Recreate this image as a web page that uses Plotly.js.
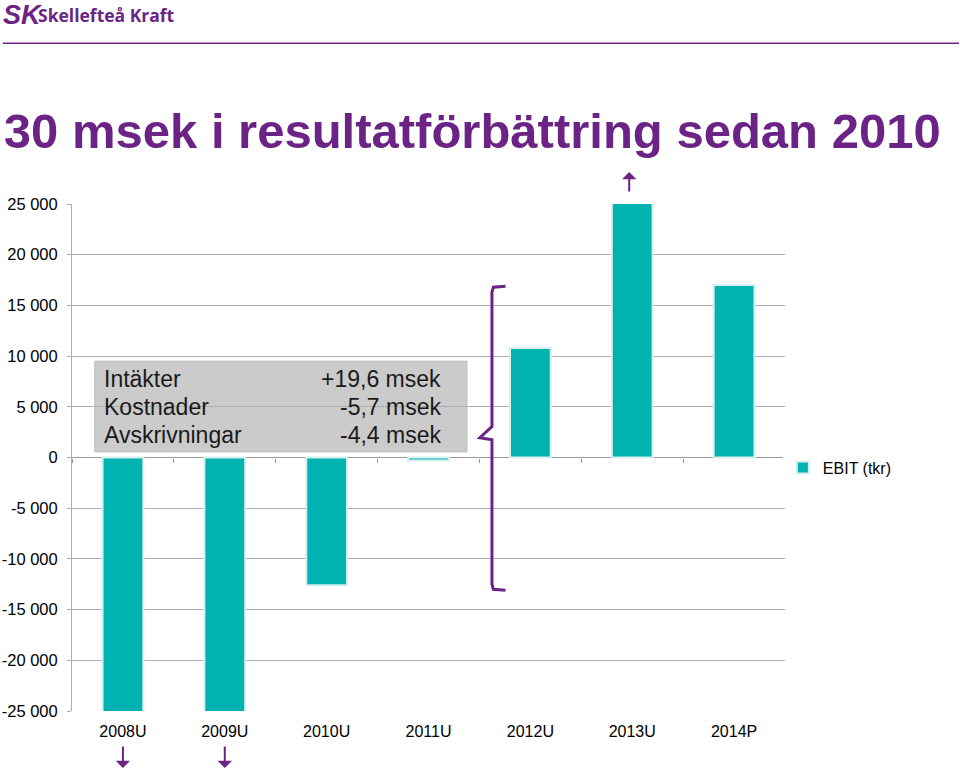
<!DOCTYPE html>
<html>
<head>
<meta charset="utf-8">
<script src="https://cdn.plot.ly/plotly-3.0.1.min.js"></script>
<style>
  body { margin: 0; background: #fff; }
  #chart { width: 960px; height: 772px; }
</style>
</head>
<body>
<div id="chart"></div>
<script>
// EBIT per year (tkr); 2008U, 2009U and 2013U run off the axis in the original
var years = ['2008U', '2009U', '2010U', '2011U', '2012U', '2013U', '2014P'];
var ebit = [-32000, -30000, -12600, -300, 10800, 30000, 17000];
var yTicks = [-25000, -20000, -15000, -10000, -5000, 0, 5000, 10000, 15000, 20000, 25000];

var boxLabels = ['Intäkter', 'Kostnader', 'Avskrivningar'];
var boxValues = ['+19,6 msek', '-5,7 msek', '-4,4 msek'];

var purple = '#6B2485';
var teal = '#00B2B0';

// "25 000", "-5 000" with a plain hyphen like the original
function tkr(v) {
    var s = String(Math.abs(v)).replace(/\B(?=(\d{3})+(?!\d))/g, ' ');
    return (v < 0 ? '-' : '') + s;
}

var ebitTrace = {
    x: years,
    y: ebit,
    type: 'bar',
    name: 'EBIT (tkr)',
    width: 0.4,
    marker: {
        color: teal,
        line: { color: '#D6EFEF', width: 2 }
    }
};

// invisible trace so the tick-only axis at zero gets drawn
var zeroTicks = {
    x: years,
    y: ebit.map(function () { return 0; }),
    xaxis: 'x2',
    type: 'scatter',
    mode: 'markers',
    marker: { opacity: 0 },
    showlegend: false,
    hoverinfo: 'skip'
};

var arrow = { text: '', showarrow: true, xref: 'x', yref: 'y', axref: 'pixel', ayref: 'pixel',
    arrowhead: 1, arrowsize: 1.2, arrowwidth: 2, arrowcolor: purple, standoff: 0, ax: 0 };

var annotations = [
    // arrows for the bars outside the axis range
    Object.assign({}, arrow, { x: '2013U', y: 25000, xshift: -3, yshift: 32, ay: 21 }),
    Object.assign({}, arrow, { x: '2008U', y: -25000, yshift: -57, ay: -23 }),
    Object.assign({}, arrow, { x: '2009U', y: -25000, yshift: -57, ay: -23 }),
    // header
    {
        xref: 'paper', yref: 'paper', x: -0.1, y: 1.373, xanchor: 'left', yanchor: 'middle',
        showarrow: false, text: '<b><i>SK</i></b>',
        font: { family: 'Liberation Sans, Arial', size: 27, color: purple }
    },
    {
        xref: 'paper', yref: 'paper', x: -0.05, y: 1.373, xanchor: 'left', yanchor: 'middle',
        showarrow: false, text: '<b>Skellefteå Kraft</b>',
        font: { family: 'Open Sans, Liberation Sans', size: 17.5, color: purple }
    }
];

// text rows inside the grey box
var rowY = [0.6548, 0.5996, 0.5444];
boxLabels.forEach(function (lab, i) {
    annotations.push({
        xref: 'paper', yref: 'paper', x: 0.042, y: rowY[i],
        xanchor: 'left', yanchor: 'middle', showarrow: false, text: lab,
        font: { family: 'Liberation Sans, Arial', size: 23, color: '#1a1a1a' }
    });
    annotations.push({
        xref: 'paper', yref: 'paper', x: 0.521, y: rowY[i],
        xanchor: 'right', yanchor: 'middle', showarrow: false, text: boxValues[i],
        font: { family: 'Liberation Sans, Arial', size: 23, color: '#1a1a1a' }
    });
});

var shapes = [
    // grey box behind the text
    {
        type: 'rect', xref: 'paper', yref: 'paper', layer: 'below',
        x0: 0.032, x1: 0.554, y0: 0.511, y1: 0.69,
        fillcolor: '#CBCBCB', line: { color: '#BDBDBD', width: 1 }
    },
    // bracket
    {
        type: 'path', xref: 'paper', yref: 'paper',
        path: 'M 0.608 0.838 L 0.591 0.836 L 0.589 0.826 L 0.589 0.561 L 0.572 0.539 L 0.589 0.535 L 0.589 0.250 L 0.591 0.240 L 0.608 0.238',
        line: { color: purple, width: 3 }
    },
    // header rule
    {
        type: 'line', xref: 'paper', yref: 'paper',
        x0: -0.097, x1: 1.244, y0: 1.317, y1: 1.317,
        line: { color: purple, width: 1.5 }
    }
];

var layout = {
    width: 960,
    height: 772,
    margin: { l: 72, r: 175, t: 204, b: 61 },
    paper_bgcolor: '#fff',
    plot_bgcolor: '#fff',
    font: { family: 'Liberation Sans, Arial, sans-serif', size: 15, color: '#000' },
    title: {
        text: '<b>30 msek i resultatförbättring sedan 2010</b>',
        x: 0.004, xanchor: 'left', y: 0.83, yanchor: 'middle',
        font: { family: 'Liberation Sans, Arial', size: 49, color: purple }
    },
    showlegend: true,
    legend: {
        x: 0.997, y: 0.48, xanchor: 'left', yanchor: 'middle',
        font: { size: 16 }, itemwidth: 30
    },
    bargap: 0.6,
    xaxis: {
        type: 'category',
        showgrid: false,
        showline: false,
        ticks: '',
        tickfont: { size: 16 },
        ticklabelstandoff: 9
    },
    xaxis2: {
        type: 'category',
        overlaying: 'x',
        anchor: 'free',
        position: 0.5,
        side: 'bottom',
        matches: 'x',
        showticklabels: false,
        showgrid: false,
        showline: false,
        ticks: 'outside',
        ticklen: 4,
        tickcolor: '#999',
        tickson: 'boundaries'
    },
    yaxis: {
        range: [-25000, 25000],
        tickvals: yTicks,
        ticktext: yTicks.map(tkr),
        showgrid: true,
        gridcolor: '#AEAEAE',
        gridwidth: 1,
        zeroline: true,
        zerolinecolor: '#999',
        zerolinewidth: 1,
        showline: true,
        linecolor: '#AEAEAE',
        linewidth: 1,
        ticks: 'outside',
        ticklen: 4,
        tickcolor: '#AEAEAE',
        ticklabelstandoff: 6,
        tickfont: { size: 16.5 },
        fixedrange: true
    },
    annotations: annotations,
    shapes: shapes
};

Plotly.newPlot('chart', [ebitTrace, zeroTicks], layout, { displayModeBar: false, staticPlot: true });
</script>
</body>
</html>
